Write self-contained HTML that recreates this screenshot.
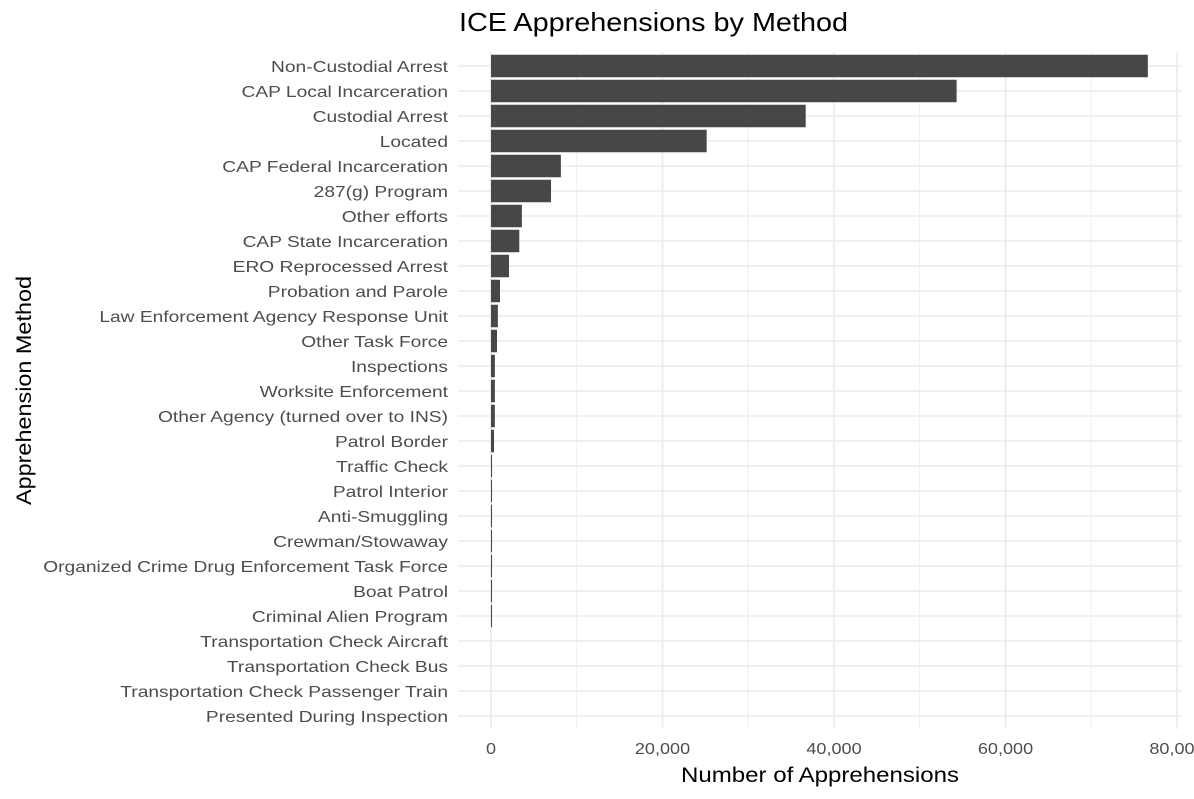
<!DOCTYPE html>
<html><head><style>body{margin:0;background:#fff}svg{display:block}</style></head><body>
<svg width="1194" height="799" xmlns="http://www.w3.org/2000/svg" font-family="Liberation Sans, Arial, sans-serif">
<rect width="1194" height="799" fill="#fff"/>
<g stroke="#ebebeb">
<g stroke-width="0.8">
<line x1="576.7" y1="52" x2="576.7" y2="729"/><line x1="748.2" y1="52" x2="748.2" y2="729"/><line x1="919.7" y1="52" x2="919.7" y2="729"/><line x1="1091.2" y1="52" x2="1091.2" y2="729"/>
</g>
<g stroke-width="1.6" id="g"></g>
</g>
<g id="bars" fill="#474747"></g>
<g id="labels" font-size="16" fill="#4d4d4d" text-anchor="end"></g>
<g id="ticks" font-size="16" fill="#4d4d4d" text-anchor="middle"></g>
<text x="681" y="782" font-size="21" fill="#000" textLength="278" lengthAdjust="spacingAndGlyphs">Number of Apprehensions</text>
<text x="31" y="505" font-size="21" fill="#000" transform="rotate(-90 31 505)" textLength="229" lengthAdjust="spacingAndGlyphs">Apprehension Method</text>
<text x="459" y="31" font-size="26" fill="#000" textLength="389" lengthAdjust="spacingAndGlyphs">ICE Apprehensions by Method</text>
<script>
var d=[["Non-Custodial Arrest",76600],["CAP Local Incarceration",54300],["Custodial Arrest",36700],["Located",25150],["CAP Federal Incarceration",8150],["287(g) Program",7000],["Other efforts",3600],["CAP State Incarceration",3300],["ERO Reprocessed Arrest",2100],["Probation and Parole",1050],["Law Enforcement Agency Response Unit",800],["Other Task Force",700],["Inspections",450],["Worksite Enforcement",450],["Other Agency (turned over to INS)",450],["Patrol Border",350],["Traffic Check",120],["Patrol Interior",120],["Anti-Smuggling",120],["Crewman/Stowaway",120],["Organized Crime Drug Enforcement Task Force",120],["Boat Patrol",120],["Criminal Alien Program",120],["Transportation Check Aircraft",0],["Transportation Check Bus",0],["Transportation Check Passenger Train",0],["Presented During Inspection",0]];
var ns="http://www.w3.org/2000/svg",g=document.getElementById("g"),b=document.getElementById("bars"),l=document.getElementById("labels"),t=document.getElementById("ticks");
function el(p,tg,a,tx){var e=document.createElementNS(ns,tg);for(var k in a)e.setAttribute(k,a[k]);if(tx)e.textContent=tx;p.appendChild(e);}
var tk=["0","20,000","40,000","60,000","80,000"];
[491,662.5,834,1005.5,1177].forEach(function(x,i){el(g,"line",{x1:x,y1:52,x2:x,y2:729});
el(t,"text",{x:0,y:0,transform:"translate("+x+" 754) scale(1.13 1)"},tk[i]);});
d.forEach(function(r,i){var y=66+25*i;el(g,"line",{x1:458,y1:y,x2:1182,y2:y});
if(r[1]>0){var w=r[1]*0.008575;el(b,"rect",{x:491,y:y-11.25,width:Math.max(w,0.8),height:22.5});}
el(l,"text",{x:0,y:0,transform:"translate(448 "+(y+6)+") scale(1.2 1)"},r[0]);});
</script>
</svg>
</body></html>
